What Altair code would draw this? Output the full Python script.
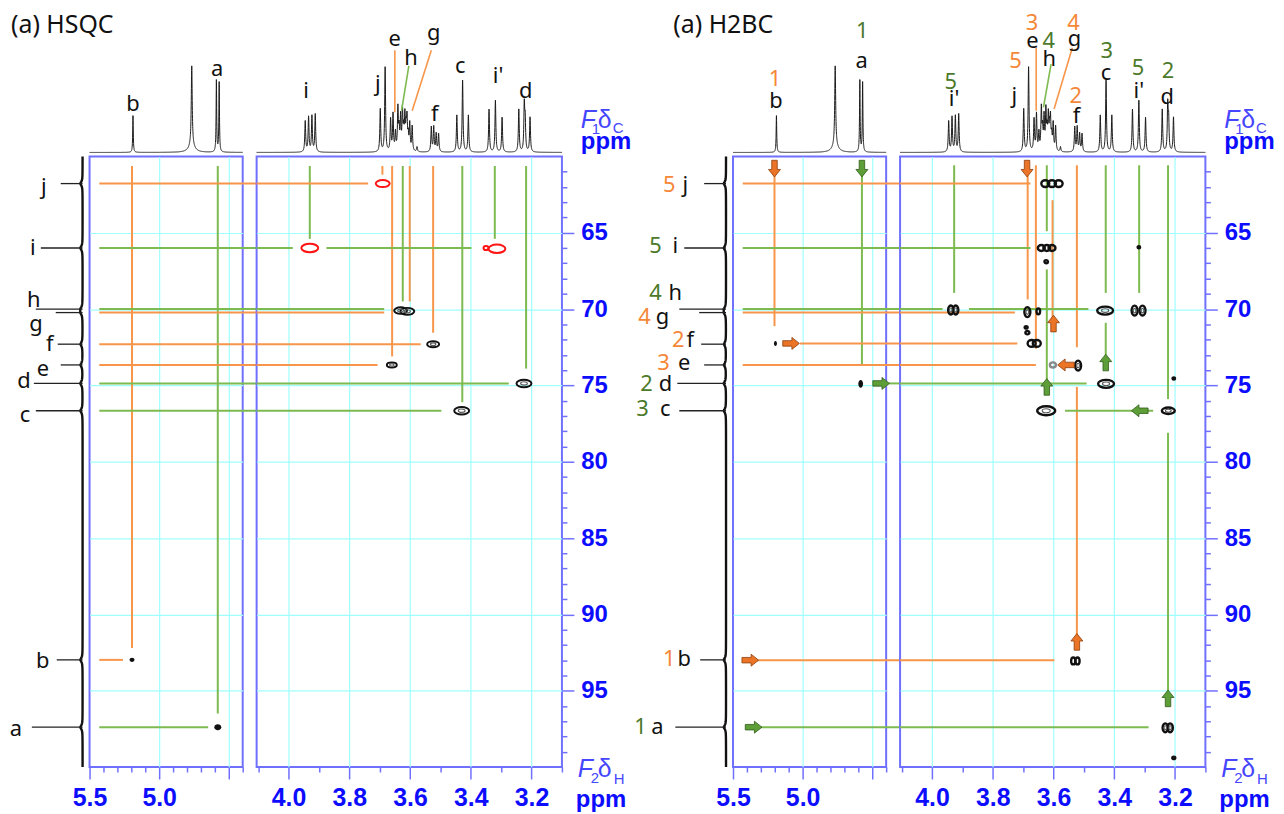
import altair as alt
import numpy as np
import pandas as pd

alt.data_transformers.disable_max_rows()

FONT = "Noto Sans"
AXFONT = "Liberation Sans"
O_LINE, G_LINE = "#F7964A", "#7DBA4F"
O_TXT, G_TXT = "#F58838", "#4C7A2A"
O_ARW, G_ARW = "#EB7427", "#5E9E38"
O_EDGE, G_EDGE = "#8C3F0E", "#2F5C1A"
RED, BLACK, GRAY = "#FF1414", "#111111", "#8A8A8A"
FRAME, AXBLUE, FBLUE, GRID = "#7070FF", "#0C0CFF", "#4646FF", "#A0FFFF"
COL = {"o": O_LINE, "g": G_LINE, "r": RED, "k": BLACK, "gray": GRAY,
       "ot": O_TXT, "gt": G_TXT}

# ---------------- 1H spectrum: line positions (ppm), heights, half widths ----
H1_PPM = [5.188, 4.766, 4.766, 4.589, 4.569,
          3.945, 3.934, 3.923, 3.912,
          3.698, 3.682,
          3.664, 3.656, 3.648, 3.640, 3.636, 3.631, 3.625, 3.621, 3.617,
          3.613, 3.610, 3.606, 3.601, 3.593, 3.577,
          3.530, 3.522, 3.514, 3.506,
          3.446, 3.427, 3.408,
          3.340, 3.319, 3.297,
          3.242, 3.224, 3.221, 3.205]
H1_HT = [37, 80, 7, 72, 70,
         31, 35, 36, 38,
         43, 85,
         32, 37, 18, 42, 20, 33, 39, 18, 33,
         20, 30, 14, 27, 25, 5,
         25, 25, 18, 18,
         37, 72, 37,
         43, 52, 35,
         43, 46, 30, 35]
H1_HW = [0.0025, 0.004, 0.025, 0.0025, 0.0025] + [0.0017] * 35

# ---------------- 13C projection peaks ----------------
C13_PPM = [61.78, 66.0, 70.0, 70.23, 72.3, 73.66, 74.87, 76.66, 92.98, 97.39]
C13_HT = [2.2, 2.2, 1.8, 1.8, 2.0, 2.0, 2.2, 2.2, 2.2, 2.2]
LEFT_TXT = ["j", "i", "h", "g", "f", "e", "d", "c", "b", "a"]
LEADER_PX = [29, 49, 54, 34, 32, 29, 56, 54, 33, 58]

HSQC_LEFT_TX = [46, 57, 56, 54, 40, 47, 66, 65, 47, 74]
HSQC_LEFT_TY = [62.02, 66.0, 69.38, 71.0, 72.3, 73.94, 74.72, 76.94, 93.03, 97.52]

H2BC_LEFT_TX = [48, 58, 58, 71, 43, 49, 68, 68, 49, 76]
H2BC_LEFT_TY = [61.9, 65.9, 68.93, 70.52, 72.02, 73.55, 74.92, 76.55, 92.93, 97.35]
H2BC_NUM = ["5", "5", "4", "4", "2", "3", "2", "3", "1", "1"]
H2BC_NUM_C = ["ot", "gt", "gt", "ot", "ot", "ot", "gt", "gt", "ot", "gt"]
H2BC_NUM_TX = [64, 78, 78, 89, 55, 70, 87, 91, 64, 93]

# ---------------- labels above the 1H spectrum (text, ppm, height, colour) ----
HSQC_TOP = [("b", 5.188, 48.7, "k"), ("a", 4.584, 83.7, "k"),
            ("i", 3.942, 62, "k"), ("j", 3.706, 68.7, "k"), ("e", 3.651, 113.7, "k"),
            ("h", 3.597, 95.3, "k"), ("g", 3.522, 120.3, "k"), ("f", 3.519, 38.7, "k"),
            ("c", 3.435, 87, "k"), ("i'", 3.310, 77, "k"), ("d", 3.219, 62, "k")]
HSQC_TOP_LEAD = [(3.650, 102.7, 3.650, 40.3, "o"), (3.604, 87, 3.628, 42, "g"),
                 (3.530, 102.7, 3.593, 42, "o")]
H2BC_TOP = [("1", 5.198, 73.7, "ot"), ("b", 5.191, 52, "k"),
            ("1", 4.571, 122, "gt"), ("a", 4.576, 92, "k"),
            ("5", 3.938, 70.3, "gt"), ("i'", 3.927, 53.7, "k"),
            ("5", 3.725, 92, "ot"), ("j", 3.729, 57, "k"),
            ("3", 3.671, 130.3, "ot"), ("e", 3.669, 112, "k"),
            ("4", 3.616, 112, "gt"), ("h", 3.614, 93.7, "k"),
            ("4", 3.534, 130.3, "ot"), ("g", 3.531, 113.7, "k"),
            ("2", 3.527, 57, "ot"), ("f", 3.524, 37, "k"),
            ("3", 3.425, 102, "gt"), ("c", 3.427, 80.3, "k"),
            ("5", 3.322, 85.3, "gt"), ("i'", 3.319, 62, "k"),
            ("2", 3.223, 82, "gt"), ("d", 3.226, 55.3, "k")]
H2BC_TOP_LEAD = [(3.657, 105.3, 3.657, 42, "o"), (3.608, 88.7, 3.633, 45.3, "g"),
                 (3.538, 105.3, 3.598, 43.7, "o")]

# ---------------- correlation lines ----------------
HSQC_VLINES = [  # x (1H ppm), top, bottom (13C ppm), colour
    (5.195, 60.63, 92.2, "o"), (4.579, 60.63, 96.5, "g"),
    (3.930, 60.63, 65.4, "g"), (3.691, 60.63, 61.2, "o"), (3.659, 60.63, 73.1, "o"),
    (3.624, 60.63, 69.5, "g"), (3.601, 60.63, 69.5, "o"), (3.524, 60.63, 71.55, "o"),
    (3.428, 60.63, 76.1, "g"), (3.321, 60.63, 65.4, "g"), (3.218, 60.63, 73.9, "g")]
HSQC_HLINES = [  # y (13C ppm), left, right (1H ppm), colour
    (61.78, 5.43, 3.738, "o"), (66.0, 5.43, 3.986, "g"), (66.0, 3.875, 3.398, "g"),
    (70.0, 5.43, 3.685, "g"), (70.23, 5.43, 3.685, "o"), (72.3, 5.43, 3.565, "o"),
    (73.66, 5.43, 3.707, "o"), (74.87, 5.43, 3.275, "g"), (76.66, 5.43, 3.497, "g"),
    (92.98, 5.43, 5.26, "o"), (97.39, 5.43, 4.648, "g")]
H2BC_VLINES = [
    (5.202, 60.8, 71.12, "o"), (4.574, 60.8, 73.6, "g"),
    (3.927, 60.58, 68.94, "g"), (3.685, 60.8, 69.37, "o"), (3.658, 60.58, 72.6, "o"),
    (3.622, 60.58, 64.9, "g"), (3.622, 67.4, 74.6, "g"), (3.603, 62.87, 70.6, "o"),
    (3.523, 60.58, 72.5, "o"), (3.523, 75.1, 91.4, "o"),
    (3.428, 60.58, 68.94, "g"), (3.428, 70.9, 73.0, "g"), (3.318, 60.58, 68.94, "g"),
    (3.223, 60.58, 75.9, "g"), (3.223, 78.1, 95.0, "g")]
H2BC_HLINES = [
    (61.78, 5.43, 3.676, "o"), (66.0, 5.43, 3.676, "g"),
    (70.0, 5.43, 3.965, "g"), (70.0, 3.878, 3.485, "g"), (70.23, 5.43, 3.727, "o"),
    (72.25, 5.019, 3.719, "o"), (73.66, 5.43, 3.658, "o"), (74.87, 4.379, 3.491, "g"),
    (76.66, 3.562, 3.272, "g"), (93.0, 5.329, 3.597, "o"), (97.39, 5.30, 3.287, "g")]
H2BC_ARROWS = [  # x, y, direction, colour
    (5.202, 60.8, "down", "o"), (4.574, 60.8, "down", "g"), (5.083, 72.25, "right", "o"),
    (4.436, 74.87, "right", "g"), (5.376, 93.0, "right", "o"), (5.352, 97.39, "right", "g"),
    (3.687, 60.8, "down", "o"), (3.600, 70.95, "up", "o"), (3.559, 73.66, "left", "o"),
    (3.428, 73.5, "up", "g"), (3.622, 75.1, "up", "g"), (3.316, 76.66, "left", "g"),
    (3.523, 91.8, "up", "o"), (3.223, 95.5, "up", "g")]

# ---------------- cross peaks (x, y, size px, shape, colour) ----------------
HSQC_PEAKS = [(3.690, 61.78, 14, "E", "r"), (3.930, 66.0, 17, "E", "r"),
              (3.314, 66.05, 17, "E", "r"), (3.350, 66.0, 5, "R", "r"),
              (3.631, 70.1, 13, "E", "k"), (3.609, 70.15, 14, "E", "k"),
              (3.524, 72.3, 12, "E", "k"), (3.660, 73.66, 10, "E", "k"),
              (3.225, 74.87, 15, "E", "k"), (3.430, 76.66, 15, "E", "k")]
HSQC_DOTS = [(5.195, 92.98, 5, "R"), (4.579, 97.39, 7, "R")]
H2BC_PEAKS = [(3.627, 61.78, 8, "R", "k"), (3.605, 61.78, 8, "R", "k"), (3.583, 61.78, 8, "R", "k"),
              (3.640, 66.0, 7, "R", "k"), (3.622, 66.0, 7, "R", "k"), (3.605, 66.0, 7, "R", "k"),
              (3.624, 66.9, 3.5, "R", "k"),
              (3.938, 70.06, 9, "V", "k"), (3.922, 70.06, 9, "V", "k"), (3.686, 70.2, 10, "V", "k"),
              (3.650, 70.15, 6, "V", "k"), (3.430, 70.1, 16, "E", "k"),
              (3.333, 70.1, 10, "V", "k"), (3.307, 70.1, 10, "V", "k"),
              (3.690, 71.2, 3, "R", "k"), (3.686, 71.55, 4, "R", "k"),
              (3.672, 72.25, 8, "R", "k"), (3.655, 72.25, 8, "R", "k"),
              (3.602, 73.66, 6, "R", "gray"), (3.519, 73.7, 10, "V", "k"),
              (3.427, 74.9, 16, "E", "k"), (3.204, 74.55, 2.5, "R", "k"), (3.319, 65.95, 2.5, "R", "k"),
              (3.624, 76.66, 18, "E", "k"), (3.222, 76.66, 13, "E", "k"),
              (3.535, 93.05, 7, "V", "k"), (3.521, 93.05, 7, "V", "k"),
              (3.232, 97.43, 9, "V", "k"), (3.216, 97.43, 9, "V", "k"), (3.204, 99.4, 3, "R", "k")]
H2BC_DOTS = [(5.195, 72.25, 5, "V"), (4.583, 74.9, 8, "V")]

SHAPES = {
    "E": "M -1 0 A 1 0.5 0 1 1 1 0 A 1 0.5 0 1 1 -1 0 Z",
    "R": "M -1 0 A 1 0.85 0 1 1 1 0 A 1 0.85 0 1 1 -1 0 Z",
    "V": "M -0.6 0 A 0.6 1 0 1 1 0.6 0 A 0.6 1 0 1 1 -0.6 0 Z",
}
ARROW = "M -0.33 -1 L 0.33 -1 L 0.33 0.1 L 0.72 0.1 L 0 1 L -0.72 0.1 L -0.33 0.1 Z"
ANGLE = {"down": 0, "left": 90, "up": 180, "right": 270}

# ---------------- geometry ----------------
W_A, W_B, H_TOP, H_MAIN = 154, 307, 142, 614
DOM_A = [5.5, 4.4]
DOM_B = [4.105, 3.1]
GAP_A = 4.3  # right end of the gap, in A-scale units


def a_left(px):
    return 5.5 + np.asarray(px) * (1.1 / W_A)


def in_region(x, region):
    return (x > 4.25) == (region == "A")


def split_h(x1, x2):
    if x2 >= GAP_A - 1e-9:
        return [("A", x1, x2)]
    if x1 <= DOM_B[0] + 1e-9:
        return [("B", x1, x2)]
    return [("A", x1, GAP_A), ("B", DOM_B[0], x2)]


def spectrum_df(dom):
    lo, hi = min(dom), max(dom)
    step = 0.0005 if lo > 4 else 0.0004
    xs = np.arange(lo, hi + step / 2, step)
    extra = [p for p in H1_PPM if lo <= p <= hi]
    xs = np.unique(np.round(np.concatenate([xs, extra]), 5))
    ys = np.zeros_like(xs)
    for p, h, w in zip(H1_PPM, H1_HT, H1_HW):
        ys += h / (1 + ((xs - p) / w) ** 2)
    return pd.DataFrame({"x": xs, "y": np.round(ys, 3)})


SPEC = {"A": spectrum_df(DOM_A), "B": spectrum_df(DOM_B)}

cy = np.round(np.arange(60.0, 100.0001, 0.05), 3)
bump = np.zeros_like(cy)
for c, h in zip(C13_PPM, C13_HT):
    bump += h / (1 + ((cy - c) / 0.15) ** 2)
PROJ = pd.DataFrame({"x": a_left(7 + bump), "y": cy})

MAJ_A = "abs(datum.value*2-round(datum.value*2))<0.01"
MAJ_B = "abs(datum.value*5-round(datum.value*5))<0.01"
MAJ_Y = "abs(datum.value/5-round(datum.value/5))<0.01"


def x_enc(region):
    if region == "A":
        vals = [round(5.5 - 0.1 * i, 1) for i in range(12)]
        major = MAJ_A
        lab = "(abs(datum.value-5.5)<0.01 || abs(datum.value-5)<0.01) ? format(datum.value,'.1f') : ''"
        grid = MAJ_A + " && datum.value<5.45"
        dom = DOM_A
    else:
        vals = [round(4.1 - 0.1 * i, 1) for i in range(11)]
        major = MAJ_B
        lab = MAJ_B + " ? format(datum.value,'.1f') : ''"
        grid = MAJ_B
        dom = DOM_B
    axis = alt.Axis(values=vals, title=None, labelExpr=lab, labelFlush=False,
                    labelOverlap=False, domain=False, grid=True,
                    tickSize={"condition": {"test": major, "value": 12}, "value": 5},
                    gridOpacity={"condition": {"test": grid, "value": 1}, "value": 0},
                    labelFontSize=25, labelPadding=7)
    return alt.X("x:Q", scale=alt.Scale(domain=dom, nice=False, zero=False), axis=axis)


def y_enc(region):
    vals = list(range(61, 100))
    if region == "A":
        axis = alt.Axis(values=vals, title=None, labels=False, ticks=False, domain=False,
                        grid=True, orient="left",
                        gridOpacity={"condition": {"test": MAJ_Y, "value": 1}, "value": 0})
    else:
        axis = alt.Axis(values=vals, title=None, orient="right", domain=False, grid=True,
                        gridOpacity={"condition": {"test": MAJ_Y, "value": 1}, "value": 0},
                        tickSize={"condition": {"test": MAJ_Y, "value": 12}, "value": 5},
                        labelExpr=MAJ_Y + " ? datum.label : ''", labelOverlap=False,
                        labelFlush=False, labelFontSize=24, labelPadding=7)
    return alt.Y("y:Q", scale=alt.Scale(domain=[60, 100], reverse=True, nice=False, zero=False),
                 axis=axis)


def annot(items):
    """items: (text, x px, y px, size, colour, style, weight)"""
    layers = []
    for t, x, y, s, c, st, wt in items:
        layers.append(
            alt.Chart(pd.DataFrame({"t": [t]})).mark_text(
                align="left", baseline="alphabetic", font=AXFONT, fontSize=s, color=c,
                fontStyle=st, fontWeight=wt
            ).encode(text="t:N", x=alt.value(x), y=alt.value(y)))
    return layers


def top_chart(region, labels, leaders, extra=None):
    dom = DOM_A if region == "A" else DOM_B
    w = W_A if region == "A" else W_B
    xsc = alt.Scale(domain=dom, nice=False, zero=False)
    ysc = alt.Scale(domain=[0, H_TOP], nice=False, zero=False)
    X = alt.X("x:Q", scale=xsc, axis=None)
    Y = alt.Y("y:Q", scale=ysc, axis=None)
    layers = [alt.Chart(SPEC[region]).mark_line(color="#1a1a1a", strokeWidth=1).encode(x=X, y=Y)]
    lead = [dict(x=a, y=b, x2=c, y2=d, c=COL[k]) for a, b, c, d, k in leaders
            if in_region(a, region)]
    if lead:
        layers.append(alt.Chart(pd.DataFrame(lead)).mark_rule(strokeWidth=1.6).encode(
            x=X, x2=alt.X2("x2"), y=Y, y2=alt.Y2("y2"), color=alt.Color("c:N", scale=None)))
    lab = [dict(t=t, x=x, y=y, c=COL[k]) for t, x, y, k in labels if in_region(x, region)]
    if lab:
        layers.append(alt.Chart(pd.DataFrame(lab)).mark_text(font=FONT, fontSize=22).encode(
            x=X, y=Y, text="t:N", color=alt.Color("c:N", scale=None)))
    if extra:
        layers += extra
    return alt.layer(*layers).properties(width=w, height=H_TOP,
                                         view=alt.ViewBackground(stroke="transparent"))


def main_chart(region, panel):
    w = W_A if region == "A" else W_B
    X, Y = x_enc(region), y_enc(region)
    vl = HSQC_VLINES if panel == "HSQC" else H2BC_VLINES
    hl = HSQC_HLINES if panel == "HSQC" else H2BC_HLINES
    rows = []
    for x, y1, y2, c in vl:
        if in_region(x, region):
            rows.append(dict(x=x, x2=x, y=y1, y2=y2, c=COL[c]))
    for y, x1, x2, c in hl:
        for reg, a, b in split_h(x1, x2):
            if reg == region:
                rows.append(dict(x=a, x2=b, y=y, y2=y, c=COL[c]))
    layers = [alt.Chart(pd.DataFrame(rows)).mark_rule(strokeWidth=2).encode(
        x=X, x2=alt.X2("x2"), y=Y, y2=alt.Y2("y2"), color=alt.Color("c:N", scale=None))]

    if region == "A":
        layers.append(alt.Chart(PROJ).mark_line(color="#111111", strokeWidth=2.4).encode(
            x=X, y=Y, order=alt.Order("y:Q")))
        lead = pd.DataFrame({"x": a_left(LEADER_PX), "x2": a_left([7] * 10), "y": C13_PPM,
                             "y2": C13_PPM})
        layers.append(alt.Chart(lead).mark_rule(color="#222222", strokeWidth=1.3).encode(
            x=X, x2=alt.X2("x2"), y=Y, y2=alt.Y2("y2")))
        if panel == "HSQC":
            lab = pd.DataFrame({"t": LEFT_TXT, "x": a_left(HSQC_LEFT_TX), "y": HSQC_LEFT_TY,
                                "c": [BLACK] * 10})
        else:
            lab = pd.DataFrame({"t": LEFT_TXT + H2BC_NUM,
                                "x": np.concatenate([a_left(H2BC_LEFT_TX), a_left(H2BC_NUM_TX)]),
                                "y": H2BC_LEFT_TY + H2BC_LEFT_TY,
                                "c": [BLACK] * 10 + [COL[k] for k in H2BC_NUM_C]})
        layers.append(alt.Chart(lab).mark_text(font=FONT, fontSize=22).encode(
            x=X, y=Y, text="t:N", color=alt.Color("c:N", scale=None)))

    peaks = HSQC_PEAKS if panel == "HSQC" else H2BC_PEAKS
    sw = 2.0 if panel == "HSQC" else 2.4
    pk = [dict(x=x, y=y, s=w_ * w_, sh=SHAPES[s], c=COL[c]) for x, y, w_, s, c in peaks
          if in_region(x, region)]
    if pk:
        layers.append(alt.Chart(pd.DataFrame(pk)).mark_point(filled=False, strokeWidth=sw,
                                                             opacity=1).encode(
            x=X, y=Y, size=alt.Size("s:Q", scale=None), shape=alt.Shape("sh:N", scale=None),
            color=alt.Color("c:N", scale=None)))
        inner = [dict(x=x, y=y, s=(0.45 * w_) ** 2, sh=SHAPES[s]) for x, y, w_, s, c in peaks
                 if in_region(x, region) and w_ >= 9 and c == "k"]
        if inner:
            layers.append(alt.Chart(pd.DataFrame(inner)).mark_point(
                filled=False, strokeWidth=1.1, opacity=1, color="#555555").encode(
                x=X, y=Y, size=alt.Size("s:Q", scale=None), shape=alt.Shape("sh:N", scale=None)))
    dots = HSQC_DOTS if panel == "HSQC" else H2BC_DOTS
    dk = [dict(x=x, y=y, s=w_ * w_, sh=SHAPES[s]) for x, y, w_, s in dots if in_region(x, region)]
    if dk:
        layers.append(alt.Chart(pd.DataFrame(dk)).mark_point(filled=True, opacity=1,
                                                             color="#111111").encode(
            x=X, y=Y, size=alt.Size("s:Q", scale=None), shape=alt.Shape("sh:N", scale=None)))
    if panel == "H2BC":
        ar = [dict(x=x, y=y, a=ANGLE[d], f=(O_ARW if c == "o" else G_ARW),
                   st=(O_EDGE if c == "o" else G_EDGE)) for x, y, d, c in H2BC_ARROWS
              if in_region(x, region)]
        if ar:
            layers.append(alt.Chart(pd.DataFrame(ar)).mark_point(
                filled=True, opacity=1, shape=ARROW, size=280, strokeWidth=0.8).encode(
                x=X, y=Y, angle=alt.Angle("a:Q", scale=None),
                fill=alt.Fill("f:N", scale=None), stroke=alt.Stroke("st:N", scale=None)))
    if region == "B":
        layers += annot([
            ("F", 323, 624, 25, FBLUE, "italic", "normal"),
            ("2", 336, 630, 15, FBLUE, "normal", "normal"),
            ("δ", 343, 624, 25, FBLUE, "normal", "normal"),
            ("H", 359, 631, 15, FBLUE, "normal", "normal"),
            ("ppm", 321, 654, 24, AXBLUE, "normal", "bold"),
        ])
    return alt.layer(*layers).properties(width=w, height=H_MAIN,
                                         view=alt.ViewBackground(stroke=FRAME, strokeWidth=2))


def spacer(w, h, text="", tx=0, ty=0):
    return alt.Chart(pd.DataFrame({"t": [text]})).mark_text(
        align="left", baseline="middle", font=FONT, fontSize=25, color="#111111"
    ).encode(text="t:N", x=alt.value(tx), y=alt.value(ty)).properties(
        width=w, height=h, view=alt.ViewBackground(stroke="transparent"))


F1_LABEL = annot([
    ("F", 326, 117, 25, FBLUE, "italic", "normal"),
    ("1", 337, 123, 15, FBLUE, "normal", "normal"),
    ("δ", 343, 117, 25, FBLUE, "normal", "normal"),
    ("C", 358, 122, 15, FBLUE, "normal", "normal"),
    ("ppm", 326, 139, 24, AXBLUE, "normal", "bold"),
])

cells = [
    spacer(65, H_TOP, "(a) HSQC", 0, 14),
    top_chart("A", HSQC_TOP, HSQC_TOP_LEAD),
    top_chart("B", HSQC_TOP, HSQC_TOP_LEAD, F1_LABEL),
    spacer(144, H_TOP, "(a) H2BC", 98, 14),
    top_chart("A", H2BC_TOP, H2BC_TOP_LEAD),
    top_chart("B", H2BC_TOP, H2BC_TOP_LEAD, F1_LABEL),
    spacer(65, H_MAIN),
    main_chart("A", "HSQC"),
    main_chart("B", "HSQC"),
    spacer(144, H_MAIN),
    main_chart("A", "H2BC"),
    main_chart("B", "H2BC"),
]

chart = alt.concat(*cells, columns=6, spacing={"row": 4, "column": 14}, bounds="flush").properties(
    padding={"left": 0, "top": 0, "right": 0, "bottom": 0}
).configure_view(stroke=FRAME, strokeWidth=2).configure_axis(
    labelColor=AXBLUE, labelFont=AXFONT, labelFontWeight="bold", tickColor=FRAME,
    tickWidth=1.5, gridColor=GRID, gridWidth=1.2)

chart.save("out.html", embed_options={"renderer": "svg", "actions": False})
